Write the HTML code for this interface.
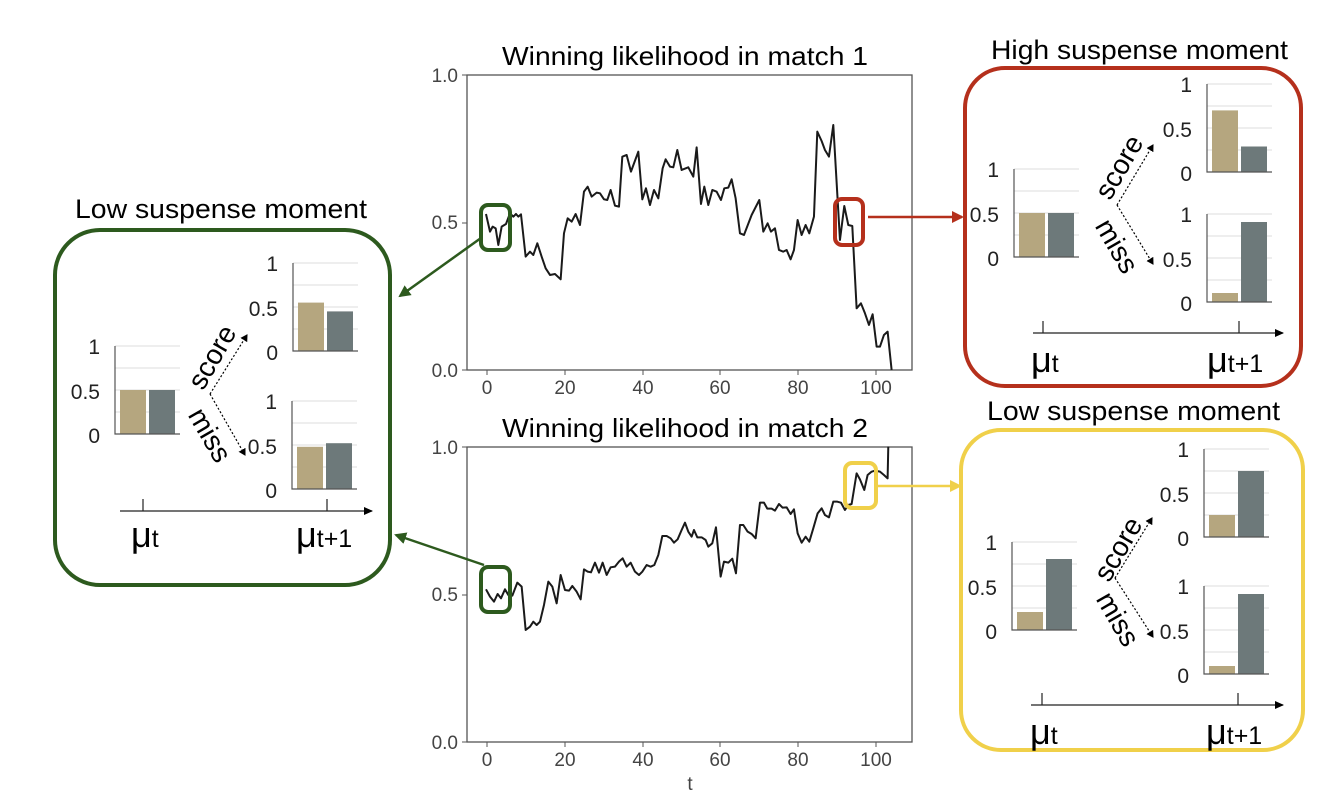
<!DOCTYPE html>
<html><head><meta charset="utf-8"><style>
html,body{margin:0;padding:0;background:#fff;}
svg{display:block;font-family:"Liberation Sans",Arial,sans-serif;}
.tk{font-size:19px;fill:#444;}
.cl{font-size:21px;fill:#222;}
.grid{stroke:#ddd;stroke-width:1;}
.ax{stroke:#555;stroke-width:1.2;fill:none;}
.tan{fill:#b5a67f;}
.gry{fill:#6d797a;}
.sm{font-size:28px;}
</style></head><body>
<svg width="1334" height="812" viewBox="0 0 1334 812" xmlns="http://www.w3.org/2000/svg">
<defs>
<marker id="ah" markerWidth="8" markerHeight="8" refX="6" refY="4" orient="auto" markerUnits="userSpaceOnUse"><path d="M0,0 L7,4 L0,8 z" fill="#000"/></marker>
<marker id="ahg" markerWidth="14" markerHeight="12" refX="10" refY="6" orient="auto" markerUnits="userSpaceOnUse"><path d="M0,0 L12,6 L0,12 z" fill="#2d5a1e"/></marker>
<marker id="ahr" markerWidth="14" markerHeight="12" refX="10" refY="6" orient="auto" markerUnits="userSpaceOnUse"><path d="M0,0 L12,6 L0,12 z" fill="#b5301c"/></marker>
<marker id="ahy" markerWidth="14" markerHeight="12" refX="10" refY="6" orient="auto" markerUnits="userSpaceOnUse"><path d="M0,0 L12,6 L0,12 z" fill="#f0d04a"/></marker>
<marker id="aa" markerWidth="10" markerHeight="8" refX="8" refY="4" orient="auto" markerUnits="userSpaceOnUse"><path d="M0,0 L9,4 L0,8 z" fill="#000"/></marker>
</defs>

<text x="502" y="65" font-size="26" textLength="366" lengthAdjust="spacingAndGlyphs">Winning likelihood in match 1</text>
<text x="502" y="437" font-size="26" textLength="366" lengthAdjust="spacingAndGlyphs">Winning likelihood in match 2</text>

<!-- Plot 1 -->
<rect x="467" y="75" width="445" height="295" fill="none" stroke="#555" stroke-width="1.3"/>
<g class="tk" text-anchor="end">
<text x="458" y="82">1.0</text><text x="458" y="229">0.5</text><text x="458" y="377">0.0</text>
</g>
<g stroke="#555"><line x1="462" y1="75" x2="467" y2="75"/><line x1="462" y1="223" x2="467" y2="223"/><line x1="462" y1="370" x2="467" y2="370"/>
<line x1="487" y1="370" x2="487" y2="375"/><line x1="565" y1="370" x2="565" y2="375"/><line x1="643" y1="370" x2="643" y2="375"/><line x1="720" y1="370" x2="720" y2="375"/><line x1="798" y1="370" x2="798" y2="375"/><line x1="876" y1="370" x2="876" y2="375"/></g>
<g class="tk" text-anchor="middle">
<text x="487" y="394">0</text><text x="565" y="394">20</text><text x="643" y="394">40</text><text x="720" y="394">60</text><text x="798" y="394">80</text><text x="876" y="394">100</text>
</g>
<g transform="translate(400,60) scale(0.3333)">
<polyline fill="none" stroke="#1a1a1a" stroke-width="6" stroke-linejoin="round" points="258,462 270,515 278,500 287,505 295,555 305,500 318,492 330,460 340,470 348,462 355,470 363,463 377,590 390,575 400,585 412,550 425,590 437,625 450,645 465,642 482,658 492,520 503,475 515,485 527,462 540,495 552,395 563,380 575,410 590,398 600,400 612,418 622,420 632,390 645,437 657,440 667,290 680,285 693,335 715,275 727,418 738,385 750,435 762,390 775,415 788,325 797,298 810,320 820,322 832,270 845,330 865,322 880,350 890,262 903,432 913,380 925,435 937,390 950,395 963,420 973,385 985,383 995,358 1007,415 1020,520 1032,525 1055,465 1078,420 1090,515 1103,490 1113,515 1125,505 1137,570 1150,575 1160,570 1172,598 1182,570 1193,480 1205,525 1217,495 1228,520 1242,470 1252,215 1265,243 1275,270 1287,290 1300,195 1320,540 1333,438 1345,495 1357,498 1370,745 1383,730 1395,760 1407,795 1418,763 1430,860 1440,860 1452,825 1463,815 1475,930"/>
</g>

<!-- Plot 2 -->
<rect x="467" y="447" width="445" height="295" fill="none" stroke="#555" stroke-width="1.3"/>
<g class="tk" text-anchor="end">
<text x="458" y="454">1.0</text><text x="458" y="601">0.5</text><text x="458" y="749">0.0</text>
</g>
<g stroke="#555"><line x1="462" y1="447" x2="467" y2="447"/><line x1="462" y1="595" x2="467" y2="595"/><line x1="462" y1="742" x2="467" y2="742"/>
<line x1="487" y1="742" x2="487" y2="747"/><line x1="565" y1="742" x2="565" y2="747"/><line x1="643" y1="742" x2="643" y2="747"/><line x1="720" y1="742" x2="720" y2="747"/><line x1="798" y1="742" x2="798" y2="747"/><line x1="876" y1="742" x2="876" y2="747"/></g>
<g class="tk" text-anchor="middle">
<text x="487" y="766">0</text><text x="565" y="766">20</text><text x="643" y="766">40</text><text x="720" y="766">60</text><text x="798" y="766">80</text><text x="876" y="766">100</text>
<text x="690" y="790">t</text>
</g>
<g transform="translate(400,430) scale(0.3333)">
<polyline fill="none" stroke="#1a1a1a" stroke-width="6" stroke-linejoin="round" points="258,478 270,500 282,515 293,492 303,505 315,478 325,495 337,497 352,458 365,470 377,600 390,590 400,575 410,585 420,575 432,525 445,455 457,470 470,520 482,435 495,480 507,482 517,468 530,485 542,508 552,418 563,425 573,427 585,398 597,428 608,398 620,435 632,412 645,410 657,395 668,385 680,410 692,398 705,425 717,435 727,425 740,405 752,410 763,405 775,375 787,318 800,318 812,325 822,338 833,328 845,300 855,278 865,305 875,320 882,300 892,322 905,322 917,330 925,350 937,340 948,292 962,440 972,395 985,398 997,386 1008,430 1020,285 1030,285 1043,305 1055,312 1067,325 1080,218 1092,218 1102,236 1115,236 1125,242 1137,222 1148,233 1160,232 1172,252 1182,238 1193,310 1205,338 1217,320 1228,335 1240,295 1253,250 1265,235 1275,255 1287,262 1300,215 1312,215 1323,218 1335,240 1345,225 1355,222 1370,130 1380,148 1393,180 1403,135 1415,125 1425,122 1440,125 1452,135 1463,145 1465,50"/>
</g>

<rect x="481" y="205" width="29" height="45" rx="7" fill="none" stroke="#2d5a1e" stroke-width="4"/>
<rect x="835" y="199" width="28" height="46" rx="7" fill="none" stroke="#b5301c" stroke-width="4"/>
<rect x="481" y="567" width="29" height="45" rx="7" fill="none" stroke="#2d5a1e" stroke-width="4"/>
<rect x="845" y="463" width="31" height="45" rx="7" fill="none" stroke="#f0d04a" stroke-width="4"/>
<line x1="481" y1="238" x2="400" y2="296" stroke="#2d5a1e" stroke-width="2.5" marker-end="url(#ahg)"/>
<line x1="484" y1="565" x2="396" y2="535" stroke="#2d5a1e" stroke-width="2.5" marker-end="url(#ahg)"/>
<line x1="868" y1="217" x2="962" y2="217" stroke="#b5301c" stroke-width="2.5" marker-end="url(#ahr)"/>
<line x1="878" y1="486" x2="960" y2="486" stroke="#f0d04a" stroke-width="2.5" marker-end="url(#ahy)"/>

<rect x="55" y="230" width="335" height="355" rx="45" fill="none" stroke="#2d5a1e" stroke-width="4"/>
<rect x="965" y="68" width="336" height="318" rx="40" fill="none" stroke="#b5301c" stroke-width="4"/>
<rect x="961" y="430" width="342" height="320" rx="40" fill="none" stroke="#f0d04a" stroke-width="4"/>

<text x="75" y="218" font-size="27" textLength="292" lengthAdjust="spacingAndGlyphs">Low suspense moment</text>
<text x="991" y="59" font-size="27" textLength="297" lengthAdjust="spacingAndGlyphs">High suspense moment</text>
<text x="987" y="420" font-size="27" textLength="293" lengthAdjust="spacingAndGlyphs">Low suspense moment</text>

<!-- GREEN -->
<g transform="translate(115,434)">
<line class="grid" x1="0" y1="-88" x2="65" y2="-88"/><line class="grid" x1="0" y1="-66" x2="65" y2="-66"/><line class="grid" x1="0" y1="-44" x2="65" y2="-44"/><line class="grid" x1="0" y1="-22" x2="65" y2="-22"/>
<rect class="tan" x="5" y="-44" width="26" height="44"/><rect class="gry" x="34" y="-44" width="26" height="44"/>
<path class="ax" d="M0,-88 V0 H65"/>
<g class="cl" text-anchor="end"><text x="-15" y="-80">1</text><text x="-15" y="-35">0.5</text><text x="-15" y="9">0</text></g>
</g>
<g transform="translate(293,351)">
<line class="grid" x1="0" y1="-88" x2="65" y2="-88"/><line class="grid" x1="0" y1="-66" x2="65" y2="-66"/><line class="grid" x1="0" y1="-44" x2="65" y2="-44"/><line class="grid" x1="0" y1="-22" x2="65" y2="-22"/>
<rect class="tan" x="5" y="-48.4" width="26" height="48.4"/><rect class="gry" x="34" y="-39.6" width="26" height="39.6"/>
<path class="ax" d="M0,-88 V0 H65"/>
<g class="cl" text-anchor="end"><text x="-15" y="-80">1</text><text x="-15" y="-35">0.5</text><text x="-15" y="9">0</text></g>
</g>
<g transform="translate(292,489)">
<line class="grid" x1="0" y1="-88" x2="65" y2="-88"/><line class="grid" x1="0" y1="-66" x2="65" y2="-66"/><line class="grid" x1="0" y1="-44" x2="65" y2="-44"/><line class="grid" x1="0" y1="-22" x2="65" y2="-22"/>
<rect class="tan" x="5" y="-42.2" width="26" height="42.2"/><rect class="gry" x="34" y="-45.8" width="26" height="45.8"/>
<path class="ax" d="M0,-88 V0 H65"/>
<g class="cl" text-anchor="end"><text x="-15" y="-80">1</text><text x="-15" y="-35">0.5</text><text x="-15" y="9">0</text></g>
</g>
<path d="M210,394 L247,335" stroke="#000" stroke-width="1.2" stroke-dasharray="2,2" fill="none" marker-end="url(#ah)"/>
<path d="M210,394 L245,455" stroke="#000" stroke-width="1.2" stroke-dasharray="2,2" fill="none" marker-end="url(#ah)"/>
<text class="sm" transform="translate(212,357) rotate(-60)" text-anchor="middle" dominant-baseline="central">score</text>
<text class="sm" transform="translate(210,435) rotate(60)" text-anchor="middle" dominant-baseline="central">miss</text>
<line x1="120" y1="511" x2="372" y2="511" stroke="#222" stroke-width="1.2" marker-end="url(#aa)"/>
<line x1="143" y1="499" x2="143" y2="511" stroke="#222" stroke-width="1.2"/>
<line x1="327" y1="499" x2="327" y2="511" stroke="#222" stroke-width="1.2"/>
<text x="131" y="547" font-size="36">μ<tspan font-size="25">t</tspan></text>
<text x="296" y="547" font-size="36">μ<tspan font-size="25">t+1</tspan></text>

<!-- RED -->
<g transform="translate(1014,257)">
<line class="grid" x1="0" y1="-88" x2="65" y2="-88"/><line class="grid" x1="0" y1="-66" x2="65" y2="-66"/><line class="grid" x1="0" y1="-44" x2="65" y2="-44"/><line class="grid" x1="0" y1="-22" x2="65" y2="-22"/>
<rect class="tan" x="5" y="-44" width="26" height="44"/><rect class="gry" x="34" y="-44" width="26" height="44"/>
<path class="ax" d="M0,-88 V0 H65"/>
<g class="cl" text-anchor="end"><text x="-15" y="-80">1</text><text x="-15" y="-35">0.5</text><text x="-15" y="9">0</text></g>
</g>
<g transform="translate(1207,172)">
<line class="grid" x1="0" y1="-88" x2="65" y2="-88"/><line class="grid" x1="0" y1="-66" x2="65" y2="-66"/><line class="grid" x1="0" y1="-44" x2="65" y2="-44"/><line class="grid" x1="0" y1="-22" x2="65" y2="-22"/>
<rect class="tan" x="5" y="-61.6" width="26" height="61.6"/><rect class="gry" x="34" y="-25.5" width="26" height="25.5"/>
<path class="ax" d="M0,-88 V0 H65"/>
<g class="cl" text-anchor="end"><text x="-15" y="-80">1</text><text x="-15" y="-35">0.5</text><text x="-15" y="9">0</text></g>
</g>
<g transform="translate(1207,302)">
<line class="grid" x1="0" y1="-88" x2="65" y2="-88"/><line class="grid" x1="0" y1="-66" x2="65" y2="-66"/><line class="grid" x1="0" y1="-44" x2="65" y2="-44"/><line class="grid" x1="0" y1="-22" x2="65" y2="-22"/>
<rect class="tan" x="5" y="-9" width="26" height="9"/><rect class="gry" x="34" y="-80" width="26" height="80"/>
<path class="ax" d="M0,-88 V0 H65"/>
<g class="cl" text-anchor="end"><text x="-15" y="-80">1</text><text x="-15" y="-35">0.5</text><text x="-15" y="9">0</text></g>
</g>
<path d="M1117,205 L1153,145" stroke="#000" stroke-width="1.2" stroke-dasharray="2,2" fill="none" marker-end="url(#ah)"/>
<path d="M1117,205 L1153,264" stroke="#000" stroke-width="1.2" stroke-dasharray="2,2" fill="none" marker-end="url(#ah)"/>
<text class="sm" transform="translate(1119,167) rotate(-60)" text-anchor="middle" dominant-baseline="central">score</text>
<text class="sm" transform="translate(1117,246) rotate(60)" text-anchor="middle" dominant-baseline="central">miss</text>
<line x1="1033" y1="333" x2="1283" y2="333" stroke="#222" stroke-width="1.2" marker-end="url(#aa)"/>
<line x1="1043" y1="321" x2="1043" y2="333" stroke="#222" stroke-width="1.2"/>
<line x1="1239" y1="321" x2="1239" y2="333" stroke="#222" stroke-width="1.2"/>
<text x="1031" y="372" font-size="36">μ<tspan font-size="25">t</tspan></text>
<text x="1207" y="372" font-size="36">μ<tspan font-size="25">t+1</tspan></text>

<!-- YELLOW -->
<g transform="translate(1012,630)">
<line class="grid" x1="0" y1="-88" x2="65" y2="-88"/><line class="grid" x1="0" y1="-66" x2="65" y2="-66"/><line class="grid" x1="0" y1="-44" x2="65" y2="-44"/><line class="grid" x1="0" y1="-22" x2="65" y2="-22"/>
<rect class="tan" x="5" y="-18" width="26" height="18"/><rect class="gry" x="34" y="-71" width="26" height="71"/>
<path class="ax" d="M0,-88 V0 H65"/>
<g class="cl" text-anchor="end"><text x="-15" y="-80">1</text><text x="-15" y="-35">0.5</text><text x="-15" y="9">0</text></g>
</g>
<g transform="translate(1204,537)">
<line class="grid" x1="0" y1="-88" x2="65" y2="-88"/><line class="grid" x1="0" y1="-66" x2="65" y2="-66"/><line class="grid" x1="0" y1="-44" x2="65" y2="-44"/><line class="grid" x1="0" y1="-22" x2="65" y2="-22"/>
<rect class="tan" x="5" y="-22" width="26" height="22"/><rect class="gry" x="34" y="-66" width="26" height="66"/>
<path class="ax" d="M0,-88 V0 H65"/>
<g class="cl" text-anchor="end"><text x="-15" y="-80">1</text><text x="-15" y="-35">0.5</text><text x="-15" y="9">0</text></g>
</g>
<g transform="translate(1204,674)">
<line class="grid" x1="0" y1="-88" x2="65" y2="-88"/><line class="grid" x1="0" y1="-66" x2="65" y2="-66"/><line class="grid" x1="0" y1="-44" x2="65" y2="-44"/><line class="grid" x1="0" y1="-22" x2="65" y2="-22"/>
<rect class="tan" x="5" y="-8" width="26" height="8"/><rect class="gry" x="34" y="-80" width="26" height="80"/>
<path class="ax" d="M0,-88 V0 H65"/>
<g class="cl" text-anchor="end"><text x="-15" y="-80">1</text><text x="-15" y="-35">0.5</text><text x="-15" y="9">0</text></g>
</g>
<path d="M1115,578 L1152,518" stroke="#000" stroke-width="1.2" stroke-dasharray="2,2" fill="none" marker-end="url(#ah)"/>
<path d="M1115,578 L1153,637" stroke="#000" stroke-width="1.2" stroke-dasharray="2,2" fill="none" marker-end="url(#ah)"/>
<text class="sm" transform="translate(1118,549) rotate(-60)" text-anchor="middle" dominant-baseline="central">score</text>
<text class="sm" transform="translate(1118,619) rotate(60)" text-anchor="middle" dominant-baseline="central">miss</text>
<line x1="1031" y1="705" x2="1283" y2="705" stroke="#222" stroke-width="1.2" marker-end="url(#aa)"/>
<line x1="1042" y1="693" x2="1042" y2="705" stroke="#222" stroke-width="1.2"/>
<line x1="1238" y1="693" x2="1238" y2="705" stroke="#222" stroke-width="1.2"/>
<text x="1030" y="744" font-size="36">μ<tspan font-size="25">t</tspan></text>
<text x="1206" y="744" font-size="36">μ<tspan font-size="25">t+1</tspan></text>
</svg>
</body></html>
